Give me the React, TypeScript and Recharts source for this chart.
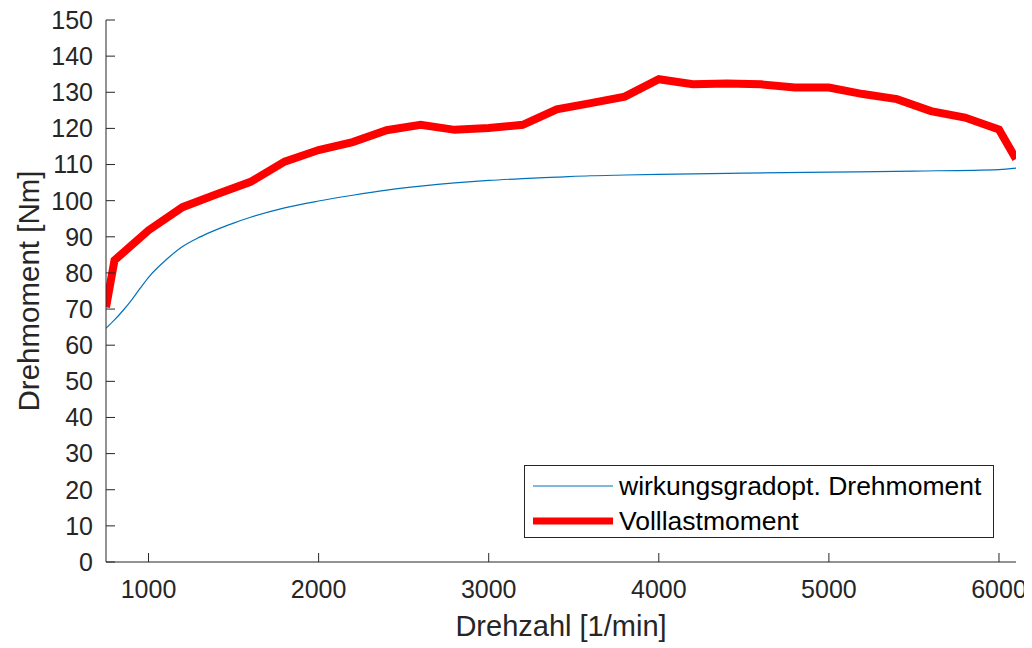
import { LineChart, Line, XAxis, YAxis, Legend } from 'recharts';

// Drehzahl [1/min] / Drehmoment [Nm]
const optDrehzahl = [
  750, 800, 850, 900, 950, 1000, 1100, 1200, 1300, 1400, 1500, 1600, 1800, 2000,
  2200, 2400, 2600, 2800, 3000, 3200, 3400, 3600, 3800, 4000, 4500, 5000, 5500,
  6000, 6100,
];
const optMoment = [
  64.7, 67.0, 69.6, 72.5, 75.7, 78.8, 83.5, 87.3, 89.9, 92.0, 93.8, 95.4, 98.0,
  99.9, 101.5, 102.9, 104.0, 104.9, 105.6, 106.1, 106.5, 106.9, 107.1, 107.3,
  107.6, 107.9, 108.2, 108.6, 109.0,
];

const vollDrehzahl = [
  750, 800, 1000, 1200, 1400, 1600, 1800, 2000, 2200, 2400, 2600, 2800, 3000,
  3200, 3400, 3600, 3800, 4000, 4200, 4400, 4600, 4800, 5000, 5200, 5400, 5600,
  5800, 6000, 6100,
];
const vollMoment = [
  70.5, 83.5, 91.8, 98.2, 101.8, 105.2, 110.8, 114.0, 116.2, 119.5, 121.0, 119.6,
  120.1, 121.0, 125.3, 127.0, 128.8, 133.6, 132.2, 132.4, 132.2, 131.3, 131.3,
  129.5, 128.1, 124.8, 123.0, 119.7, 111.5,
];

const xTicks = [1000, 2000, 3000, 4000, 5000, 6000];
const yTicks = [0, 10, 20, 30, 40, 50, 60, 70, 80, 90, 100, 110, 120, 130, 140, 150];

const optData = optDrehzahl.map((rpm, i) => ({ rpm, moment: optMoment[i] }));
const vollData = vollDrehzahl.map((rpm, i) => ({ rpm, moment: vollMoment[i] }));

const FONT = '"Liberation Sans", Arial, Helvetica, sans-serif';
const AXIS = '#262626';
const BLUE = '#0072BD';
const RED = '#FF0000';

const tickStyle = { fill: AXIS, fontSize: 25, fontFamily: FONT };

const legendRows = [
  { name: 'wirkungsgradopt. Drehmoment', color: BLUE, width: 1.2 },
  { name: 'Volllastmoment', color: RED, width: 7 },
];

const renderLegend = () => (
  <div
    style={{
      position: 'relative',
      width: 470,
      height: 73,
      boxSizing: 'border-box',
      border: `1px solid ${AXIS}`,
      background: '#fff',
      fontFamily: FONT,
      fontSize: 26.5,
      color: '#000',
    }}
  >
    {legendRows.map((row, i) => (
      <div
        key={row.name}
        style={{
          position: 'absolute',
          left: 8,
          top: 20 + i * 35 - 16,
          height: 32,
          display: 'flex',
          alignItems: 'center',
          whiteSpace: 'nowrap',
        }}
      >
        <svg width={80} height={12} style={{ marginRight: 6 }}>
          <line x1={0} x2={80} y1={6} y2={6} stroke={row.color} strokeWidth={row.width} />
        </svg>
        <span>{row.name}</span>
      </div>
    ))}
  </div>
);

const XLabel = () => (
  <text x={561} y={636} textAnchor='middle' fill={AXIS} fontSize={29} fontFamily={FONT}>
    Drehzahl [1/min]
  </text>
);

const YLabel = () => (
  <text
    x={28}
    y={291}
    transform='rotate(-90, 28, 291)'
    textAnchor='middle'
    dominantBaseline='central'
    fill={AXIS}
    fontSize={29.5}
    fontFamily={FONT}
  >
    Drehmoment [Nm]
  </text>
);

const App = () => (
  // cancel the body margin so the svg covers the whole page
  <div style={{ margin: '-8px 0 0 -8px', width: 1032, height: 648 }}>
    <LineChart
      width={1032}
      height={648}
      margin={{ top: 20, right: 16, bottom: 36, left: 46 }}
      style={{ background: '#fff' }}
    >
      <XAxis
        dataKey='rpm'
        type='number'
        domain={[750, 6100]}
        ticks={xTicks}
        interval={0}
        allowDataOverflow
        height={50}
        tick={tickStyle}
        tickSize={-9}
        tickMargin={27}
        axisLine={{ stroke: AXIS }}
        tickLine={{ stroke: AXIS }}
        label={{ content: XLabel }}
      />
      <XAxis
        xAxisId='top'
        orientation='top'
        dataKey='rpm'
        type='number'
        domain={[750, 6100]}
        ticks={xTicks}
        interval={0}
        allowDataOverflow
        height={0}
        tick={false}
        tickSize={-9}
        axisLine={{ stroke: AXIS }}
        tickLine={{ stroke: AXIS }}
      />
      <YAxis
        type='number'
        domain={[0, 150]}
        ticks={yTicks}
        interval={0}
        allowDataOverflow
        width={60}
        tick={tickStyle}
        tickSize={-9}
        tickMargin={22}
        axisLine={{ stroke: AXIS }}
        tickLine={{ stroke: AXIS }}
        label={{ content: YLabel }}
      />
      <YAxis
        yAxisId='right'
        orientation='right'
        type='number'
        domain={[0, 150]}
        ticks={yTicks}
        interval={0}
        allowDataOverflow
        width={0}
        tick={false}
        tickSize={-9}
        axisLine={{ stroke: AXIS }}
        tickLine={{ stroke: AXIS }}
      />
      <Line
        data={optData}
        dataKey='moment'
        name='wirkungsgradopt. Drehmoment'
        type='monotone'
        stroke={BLUE}
        strokeWidth={1.2}
        dot={false}
        activeDot={false}
        isAnimationActive={false}
      />
      <Line
        data={vollData}
        dataKey='moment'
        name='Volllastmoment'
        type='linear'
        stroke={RED}
        strokeWidth={8}
        strokeLinejoin='miter'
        dot={false}
        activeDot={false}
        isAnimationActive={false}
      />
      <Legend
        layout='vertical'
        align='center'
        verticalAlign='middle'
        content={renderLegend}
        wrapperStyle={{ left: 524, top: 465, width: 470 }}
      />
    </LineChart>
  </div>
);

export default App;
